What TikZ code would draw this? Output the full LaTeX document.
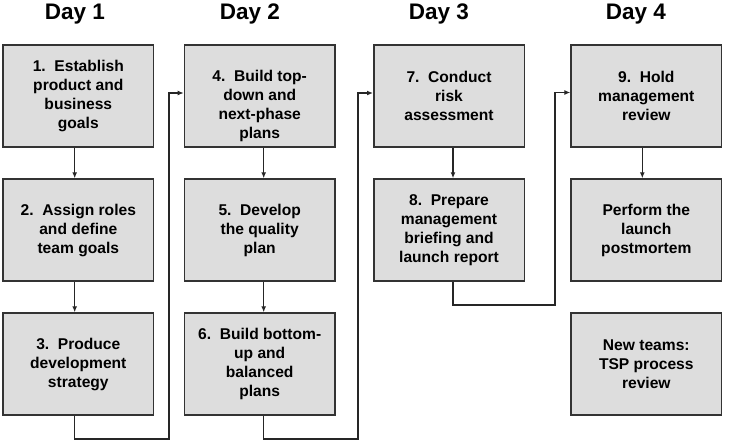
\documentclass[tikz,border=0pt]{standalone}
\usepackage{fontspec}
\setmainfont{Liberation Sans}
\usetikzlibrary{arrows.meta}
\definecolor{boxfill}{HTML}{DDDDDD}
\definecolor{boxline}{HTML}{333333}
\tikzset{
  stepbox/.style={draw=boxline, line width=1.5pt, fill=boxfill,
    minimum width=150.5pt, minimum height=102pt, inner sep=0pt,
    align=center, font=\bfseries\fontsize{15.6}{19}\selectfont},
  boxtext/.style={align=center, inner sep=0pt, font=\bfseries\fontsize{15.6}{19}\selectfont},
  daylabel/.style={font=\bfseries\fontsize{22.5}{26}\selectfont, anchor=base, inner sep=0pt},
  conn/.style={draw=black!85, line width=1.2pt},
  arr/.style={conn, -{Latex[length=6pt,width=5pt]}}
}
\begin{document}
\begin{tikzpicture}[x=1pt,y=-1pt]
\useasboundingbox (0,0) rectangle (732,445);
% day labels
\node[daylabel] (d1) at (75,19.5) {Day 1};
\node[daylabel] (d2) at (250,19.5) {Day 2};
\node[daylabel] (d3) at (439,19.5) {Day 3};
\node[daylabel] (d4) at (636,19.5) {Day 4};
% boxes
\node[stepbox] (b1) at (78.3,96) {1.\ \ Establish\\product and\\business\\goals};
\node[stepbox] (b2) at (78.3,230) {2.\ \ Assign roles\\and define\\team goals};
\node[stepbox] (b3) at (78.3,364) {3.\ \ Produce\\development\\strategy};
\node[stepbox] (b4) at (259.7,96) {};
\node[boxtext] (t4) at (259.7,106) {4.\ \ Build top-\\down and\\next-phase\\plans};
\node[stepbox] (b5) at (259.7,230) {5.\ \ Develop\\the quality\\plan};
\node[stepbox] (b6) at (259.7,364) {6.\ \ Build bottom-\\up and\\balanced\\plans};
\node[stepbox] (b7) at (449,96) {7.\ \ Conduct\\risk\\assessment};
\node[stepbox] (b8) at (449,230) {8.\ \ Prepare\\management\\briefing and\\launch report};
\node[stepbox] (b9) at (646.3,96) {9.\ \ Hold\\management\\review};
\node[stepbox] (b10) at (646.3,230) {Perform the\\launch\\postmortem};
\node[stepbox] (b11) at (646.3,364) {New teams:\\TSP process\\review};
% vertical arrows
\draw[arr] ([xshift=-3.6pt]b1.south) -- ([xshift=-3.6pt]b2.north);
\draw[arr] ([xshift=-3.6pt]b2.south) -- ([xshift=-3.6pt]b3.north);
\draw[arr] ([xshift=4pt]b4.south) -- ([xshift=4pt]b5.north);
\draw[arr] ([xshift=4pt]b5.south) -- ([xshift=4pt]b6.north);
\draw[arr] ([xshift=4pt]b7.south) -- ([xshift=4pt]b8.north);
\draw[arr] ([xshift=-4pt]b9.south) -- ([xshift=-4pt]b10.north);
% route connectors
\coordinate (r1) at (169,439);
\coordinate (r2) at (358,439);
\coordinate (r3) at (555,305);
\draw[arr] ([xshift=-3.6pt]b3.south) |- (r1) |- ([yshift=3pt]b4.west);
\draw[arr] ([xshift=4pt]b6.south) |- (r2) |- ([yshift=3pt]b7.west);
\draw[arr] ([xshift=4pt]b8.south) |- (r3) |- ([yshift=3.5pt]b9.west);
\end{tikzpicture}
\end{document}
